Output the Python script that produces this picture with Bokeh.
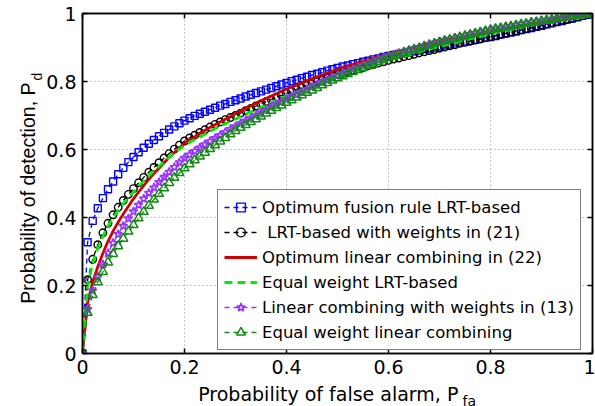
from math import pi
from bokeh.plotting import figure
from bokeh.models import Legend, LegendItem, Label, LinearAxis, PrintfTickFormatter
from bokeh.embed import file_html
from bokeh.resources import INLINE

ticks = [0, 0.2, 0.4, 0.6, 0.8, 1]

pfa = [0.00, 0.01, 0.02, 0.03, 0.04, 0.05, 0.06, 0.07, 0.08, 0.09, 0.10,
       0.11, 0.12, 0.13, 0.14, 0.15, 0.16, 0.17, 0.18, 0.19, 0.20,
       0.21, 0.22, 0.23, 0.24, 0.25, 0.26, 0.27, 0.28, 0.29, 0.30,
       0.31, 0.32, 0.33, 0.34, 0.35, 0.36, 0.37, 0.38, 0.39, 0.40,
       0.41, 0.42, 0.43, 0.44, 0.45, 0.46, 0.47, 0.48, 0.49, 0.50,
       0.51, 0.52, 0.53, 0.54, 0.55, 0.56, 0.57, 0.58, 0.59, 0.60,
       0.61, 0.62, 0.63, 0.64, 0.65, 0.66, 0.67, 0.68, 0.69, 0.70,
       0.71, 0.72, 0.73, 0.74, 0.75, 0.76, 0.77, 0.78, 0.79, 0.80,
       0.81, 0.82, 0.83, 0.84, 0.85, 0.86, 0.87, 0.88, 0.89, 0.90,
       0.91, 0.92, 0.93, 0.94, 0.95, 0.96, 0.97, 0.98, 0.99, 1.00]

pd_opt_lrt = [0, .327, .39, .427, .457, .483, .506, .527, .546, .563, .578,
              .592, .605, .617, .628, .639, .649, .659, .668, .677, .685,
              .692, .699, .705, .711, .717, .723, .729, .734, .740, .745,
              .750, .756, .761, .766, .771, .776, .781, .786, .791, .796,
              .801, .805, .810, .814, .819, .823, .827, .832, .836, .840,
              .844, .847, .851, .854, .858, .861, .865, .868, .872, .875,
              .878, .881, .883, .886, .889, .892, .895, .897, .900, .903,
              .906, .909, .912, .915, .918, .920, .923, .926, .929, .931,
              .934, .938, .941, .944, .947, .951, .954, .957, .961, .964,
              .968, .971, .975, .978, .982, .985, .989, .993, .996, 1.0]

pd_lrt_w21 = [0, .217, .277, .32, .355, .383, .408, .43, .45, .468, .485,
              .502, .518, .533, .547, .561, .575, .588, .601, .613, .625,
              .634, .642, .650, .658, .666, .674, .681, .688, .694, .700,
              .707, .714, .721, .728, .734, .741, .747, .753, .759, .765,
              .771, .777, .782, .788, .793, .799, .804, .810, .815, .820,
              .824, .829, .833, .837, .841, .846, .850, .854, .858, .862,
              .866, .869, .873, .876, .880, .884, .887, .891, .894, .898,
              .901, .905, .908, .912, .915, .918, .922, .925, .929, .932,
              .935, .939, .942, .946, .949, .952, .956, .959, .963, .966,
              .969, .973, .976, .980, .983, .986, .990, .993, .997, 1.0]

pd_opt_lin = [0, .15, .21, .255, .295, .33, .36, .386, .41, .433, .455,
              .475, .494, .512, .529, .545, .561, .577, .591, .605, .618,
              .628, .637, .647, .656, .665, .673, .681, .689, .697, .705,
              .713, .721, .728, .736, .743, .750, .757, .764, .771, .778,
              .784, .790, .796, .802, .808, .814, .819, .825, .830, .836,
              .841, .846, .850, .855, .860, .864, .869, .873, .878, .882,
              .886, .889, .893, .897, .900, .904, .907, .911, .914, .918,
              .921, .924, .927, .930, .933, .936, .939, .942, .945, .948,
              .951, .954, .956, .959, .962, .964, .967, .970, .972, .975,
              .977, .980, .982, .985, .987, .990, .992, .995, .997, 1.0]

pd_eq_lrt = [0, .20, .265, .31, .345, .374, .399, .421, .441, .459, .475,
             .492, .507, .522, .537, .551, .564, .577, .590, .601, .612,
             .621, .629, .637, .645, .653, .661, .668, .676, .683, .690,
             .697, .704, .711, .718, .724, .731, .738, .744, .751, .757,
             .763, .769, .775, .781, .787, .792, .798, .804, .809, .815,
             .820, .825, .829, .834, .839, .843, .848, .853, .857, .862,
             .866, .870, .874, .878, .882, .887, .891, .895, .899, .903,
             .907, .910, .914, .918, .922, .925, .929, .933, .936, .940,
             .943, .946, .949, .952, .955, .959, .962, .965, .968, .971,
             .974, .977, .980, .983, .986, .988, .991, .994, .997, 1.0]

pd_lin_w13 = [0, .13, .185, .225, .262, .295, .325, .351, .375, .397, .418,
              .437, .455, .472, .488, .504, .519, .534, .548, .562, .575,
              .585, .595, .605, .615, .624, .633, .642, .651, .660, .668,
              .677, .685, .693, .701, .709, .717, .725, .733, .740, .748,
              .755, .762, .769, .777, .784, .791, .798, .804, .811, .818,
              .824, .830, .836, .841, .847, .853, .858, .864, .869, .875,
              .879, .884, .888, .893, .897, .901, .906, .910, .914, .918,
              .922, .925, .928, .932, .935, .939, .942, .945, .949, .952,
              .955, .957, .960, .962, .965, .968, .970, .973, .975, .978,
              .980, .982, .985, .987, .989, .991, .993, .996, .998, 1.0]

pd_eq_lin = [0, .12, .172, .21, .24, .268, .293, .316, .338, .359, .378,
             .398, .417, .435, .453, .470, .486, .502, .517, .531, .545,
             .557, .569, .580, .591, .602, .613, .624, .634, .645, .655,
             .664, .672, .681, .689, .697, .706, .714, .722, .730, .738,
             .745, .753, .760, .767, .774, .781, .789, .796, .803, .810,
             .816, .822, .828, .834, .840, .846, .852, .858, .864, .870,
             .875, .879, .884, .888, .893, .897, .902, .906, .911, .915,
             .919, .922, .926, .930, .934, .937, .941, .945, .948, .952,
             .955, .957, .960, .962, .965, .968, .970, .973, .975, .978,
             .980, .982, .985, .987, .989, .991, .993, .996, .998, 1.0]

labels = ["Optimum fusion rule LRT-based",
          " LRT-based with weights in (21)",
          "Optimum linear combining in (22)",
          "Equal weight LRT-based",
          "Linear combining with weights in (13)",
          "Equal weight linear combining"]

x_title, x_sub = "Probability of false alarm, P", "fa"
y_title, y_sub = "Probability of detection, P", "d"

FONT = "DejaVu Sans"
FONT_V = "Liberation Sans"

p = figure(width=595, height=406, output_backend="svg", toolbar_location=None,
           x_range=(0, 1), y_range=(0, 1),
           min_border_left=82, min_border_right=3, min_border_top=13, min_border_bottom=53)
p.background_fill_color = "white"
p.border_fill_color = "white"
p.outline_line_color = "black"
p.outline_line_width = 1.5

for ax in (p.xaxis[0], p.yaxis[0]):
    ax.ticker = ticks
    ax.formatter = PrintfTickFormatter(format="%g")
    ax.major_tick_in = 5
    ax.major_tick_out = 0
    ax.minor_tick_line_color = None
    ax.axis_line_width = 1.5
    ax.major_tick_line_width = 1.5
    ax.major_label_text_font = FONT
    ax.major_label_text_font_size = "19px"
    ax.major_label_text_color = "black"
    ax.major_label_standoff = 6

for loc in ("above", "right"):
    extra = LinearAxis(ticker=ticks, major_label_text_font_size="0px",
                       major_label_text_color=None,
                       major_label_standoff=0, major_tick_in=5, major_tick_out=0,
                       minor_tick_line_color=None, axis_line_width=1.5,
                       major_tick_line_width=1.5)
    p.add_layout(extra, loc)

for g in (p.xgrid[0], p.ygrid[0]):
    g.ticker = ticks
    g.grid_line_color = "#8c8c8c"
    g.grid_line_dash = "1 3"
    g.grid_line_width = 1

r1 = p.line(pfa, pd_opt_lrt, line_color="#0000ff", line_width=1.3, line_dash="5 4")
m1 = p.scatter(pfa, pd_opt_lrt, marker="square", size=7, line_color="#0000ff",
               fill_color=None, line_width=1.4)
r2 = p.line(pfa, pd_lrt_w21, line_color="black", line_width=1.3, line_dash="5 4")
m2 = p.scatter(pfa, pd_lrt_w21, marker="circle", size=7.5, line_color="black",
               fill_color=None, line_width=1.4)
r3 = p.line(pfa, pd_opt_lin, line_color="#d00000", line_width=2.8)
r4 = p.line(pfa, pd_eq_lrt, line_color="#00ee00", line_width=2.8, line_dash="8 5")
r5 = p.line(pfa, pd_lin_w13, line_color="#9933ff", line_width=1.3, line_dash="5 4")
m5 = p.scatter(pfa, pd_lin_w13, marker="star", size=9, line_color="#9933ff",
               fill_color=None, line_width=1.6)
r6 = p.line(pfa, pd_eq_lin, line_color="#108a10", line_width=1.3, line_dash="5 4")
m6 = p.scatter(pfa, pd_eq_lin, marker="triangle", size=9, line_color="#108a10",
               fill_color=None, line_width=1.5)

legend = Legend(items=[LegendItem(label=labels[0], renderers=[r1, m1]),
                       LegendItem(label=labels[1], renderers=[r2, m2]),
                       LegendItem(label=labels[2], renderers=[r3]),
                       LegendItem(label=labels[3], renderers=[r4]),
                       LegendItem(label=labels[4], renderers=[r5, m5]),
                       LegendItem(label=labels[5], renderers=[r6, m6])],
                location=(135, 3), margin=0, padding=6, spacing=3,
                glyph_width=33, glyph_height=22, label_standoff=5,
                label_text_font=FONT, label_text_font_size="16.5px",
                label_text_color="black",
                border_line_color="black", border_line_width=1.2,
                background_fill_color="white", background_fill_alpha=1.0)
p.add_layout(legend)

# Axis titles with subscripts. They are positioned in data units; they are
# hosted in side panels (which are not clipped to the frame), spread over the
# panels so that no panel grows beyond its border.
p.add_layout(Label(x=0.737, y=-0.118, text=x_title, text_align="right",
                   text_baseline="alphabetic", text_font=FONT,
                   text_font_size="19px", text_color="black"), "below")
p.add_layout(Label(x=0.745, y=-0.139, text=x_sub, text_align="left",
                   text_baseline="alphabetic", text_font=FONT,
                   text_font_size="14px", text_color="black"), "left")
p.add_layout(Label(x=-0.106, y=0.797, angle=pi / 2, text=y_title,
                   text_align="right", text_baseline="alphabetic",
                   text_font=FONT_V, text_font_size="19.5px",
                   text_color="black"), "left")
p.add_layout(Label(x=-0.090, y=0.803, angle=pi / 2, text=y_sub,
                   text_align="left", text_baseline="alphabetic",
                   text_font=FONT_V, text_font_size="14px",
                   text_color="black"), "above")

open("out.html", "w").write(file_html(p, INLINE))
